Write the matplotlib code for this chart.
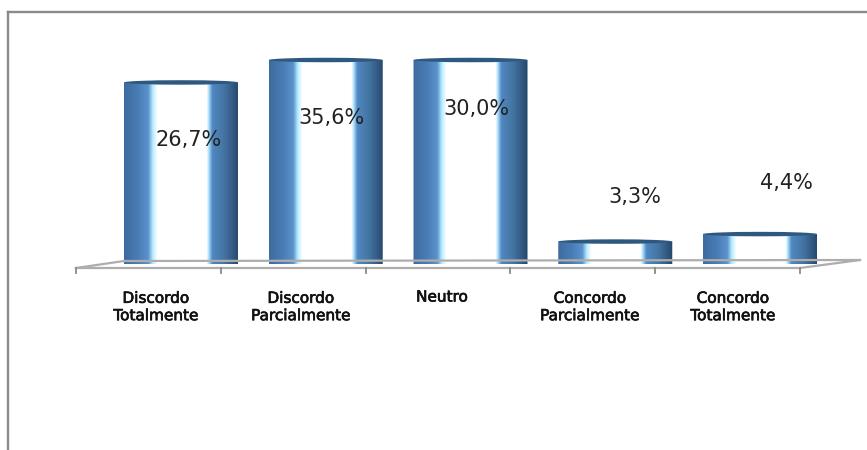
import numpy as np
import matplotlib
matplotlib.use("Agg")
import matplotlib.pyplot as plt
import matplotlib.patheffects as pe
from matplotlib.colors import LinearSegmentedColormap
from matplotlib.lines import Line2D
from matplotlib.patches import Ellipse, PathPatch
from matplotlib.path import Path

categories = ["Discordo\nTotalmente", "Discordo\nParcialmente", "Neutro",
              "Concordo\nParcialmente", "Concordo\nTotalmente"]
values = [26.7, 35.6, 30.0, 3.3, 4.4]
value_labels = ["26,7%", "35,6%", "30,0%", "3,3%", "4,4%"]
label_px = [(189, 140), (332, 118), (476, 109), (635, 197), (786, 183)]
cat_px = [(156, 307), (301, 307), (442, 297), (590, 307), (733, 307)]
YMAX = 30

W, H = 867, 450
fig = plt.figure(figsize=(W / 100, H / 100), dpi=100, facecolor="white")
fx = lambda x: x / W
fy = lambda y: 1 - y / H

# frame (left and top only reach the image)
for xs, ys in [([8, 8], [12, 450]), ([8, 867], [12, 12])]:
    fig.add_artist(Line2D([fx(x) for x in xs], [fy(y) for y in ys], color="#8a8a8a", lw=1.7))

# 3D floor and ticks
floor = "#adadad"
for xs, ys in [([76, 800], [268, 268]), ([124, 860], [261, 260]),
               ([76, 124], [268, 261]), ([800, 860], [268, 260])]:
    fig.add_artist(Line2D([fx(x) for x in xs], [fy(y) for y in ys], color=floor, lw=1.6))
for i in range(6):
    tx = 76 + i * 144.8
    fig.add_artist(Line2D([fx(tx)] * 2, [fy(268), fy(273)], color="#8a8a8a", lw=1.3))

# axes: category spacing 144.75 px, y 0 at 264 px, 30 at 60 px
left, right = 108.6, 832.4
ax = fig.add_axes([fx(left), fy(264), (right - left) / W, (264 - 60) / H])
ax.set_axis_off()

cmap = LinearSegmentedColormap.from_list("cyl", [
    (0.00, "#3c6b9f"), (0.12, "#4a7cb4"), (0.21, "#5a92cc"), (0.25, "#b8ecff"),
    (0.29, "#ffffff"), (0.72, "#ffffff"), (0.74, "#a8dcf8"), (0.77, "#5088c2"),
    (0.88, "#43729f"), (1.00, "#26466c")])
grad = np.linspace(0, 1, 256)[None, :]

bw = 114 / 144.75
px_y = 30 / 204
for i, v in enumerate(values):
    top = min(v, YMAX)
    x0, x1 = i - bw / 2, i + bw / 2
    r = 2.5 * px_y
    verts = [(x0, top), (x1, top), (x1, 0), (x1 - bw * .2, -r), (x0 + bw * .2, -r), (x0, 0), (x0, top)]
    codes = [Path.MOVETO, Path.LINETO, Path.LINETO, Path.CURVE4, Path.CURVE4, Path.CURVE4, Path.CLOSEPOLY]
    patch = PathPatch(Path(verts, codes), fc="none", ec="none", transform=ax.transData)
    ax.add_patch(patch)
    im = ax.imshow(grad, cmap=cmap, extent=[x0, x1, -r * 1.2, top], aspect="auto", zorder=2)
    im.set_clip_path(patch)
    ax.add_patch(Ellipse((i, top), bw, 4.5 * px_y, fc="#2f5880", ec="none", zorder=3, clip_on=False))

ax.set_xlim(-0.5, 4.5)
ax.set_ylim(0, YMAX)

for (x, y), s in zip(label_px, value_labels):
    fig.text(fx(x), fy(y), s, ha="center", va="center", fontsize=15, color="#222222",
             family="DejaVu Sans", zorder=10)
for (x, y), s in zip(cat_px, categories):
    fig.text(fx(x), fy(y), s, ha="center", va="center", fontsize=11, color="#111111",
             family="DejaVu Sans", linespacing=1.2, zorder=10,
             path_effects=[pe.withStroke(linewidth=0.5, foreground="#111111")])

fig.savefig("out.png", dpi=100)
